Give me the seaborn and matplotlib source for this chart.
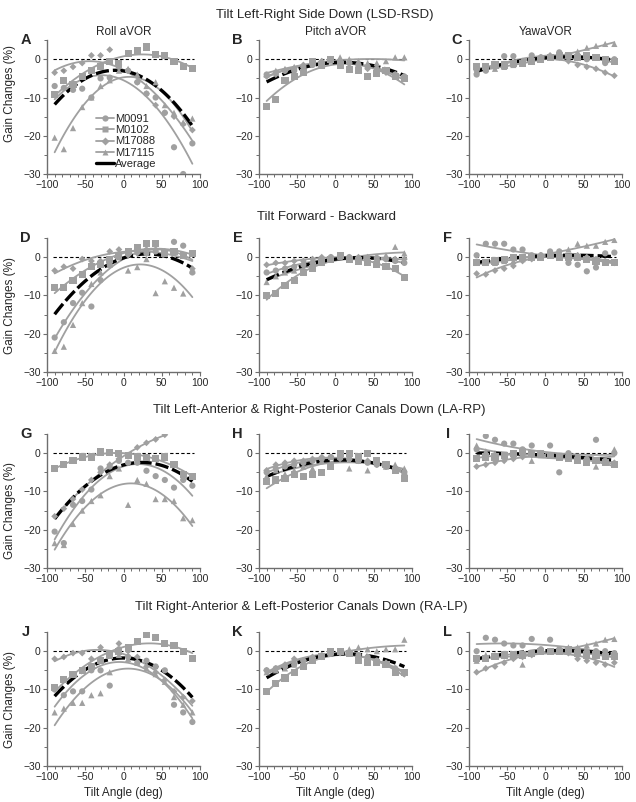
import numpy as np
import pandas as pd
import matplotlib
matplotlib.use('Agg')
import matplotlib.pyplot as plt
from matplotlib.lines import Line2D
from matplotlib.ticker import MultipleLocator
import seaborn as sns

nan = np.nan
angles = [-90, -78, -66, -54, -42, -30, -18, -6, 6, 18, 30, 42, 54, 66, 78, 90]
animals = ['M0091', 'M0102', 'M17088', 'M17115']
markers = ['o', 's', 'D', '^']
sizes = [20, 26, 12, 20]

row_titles = ['Tilt Left-Right Side Down (LSD-RSD)',
              'Tilt Forward - Backward',
              'Tilt Left-Anterior & Right-Posterior Canals Down (LA-RP)',
              'Tilt Right-Anterior & Left-Posterior Canals Down (RA-LP)']
col_titles = ['Roll aVOR', 'Pitch aVOR', 'YawaVOR']
letters = list('ABCDEFGHIJKL')

# gain changes (%) per panel, one list per animal
a_m0091 = [-7, -7.5, -8, -7.7, -10, -5, -4.8, -2, -3, -6, -9, -10, -14, -23, -30, -22]
a_m0102 = [-9.3, -5.6, -6.5, -4.5, -3, -2, -0.5, -1, 1.5, 2.2, 3.2, 1.3, 1, -0.5, -2, -2.5]
a_m17088 = [-3.5, -3, -2, -1, 1, 1, 2.5, -1.5, -3, -6, -9, -12, -14, -15, -17, -18.5]
a_m17115 = [-20.5, -23.5, -18, -12.5, -10, -7, -5.5, -3, -2.5, -4, -7, -6, -12, -14, -16.5, -15.5]

b_m0091 = [-4, -3.5, -3, -3, -2, -1.5, -1, 0, -0.5, -1, -1.5, -2, -2.5, -3, -4, -4.5]
b_m0102 = [-12.3, -10.5, -5.5, -4.5, -3.5, -0.5, -1.5, 0, -1.5, -2.8, -3, -4.5, -3.8, -3, -4.5, -5]
b_m17088 = [-4.5, -4, -3, -2.5, -1.5, -1, -0.5, 0, -0.5, -1, -2, -2.5, -3, -3.5, -4, -5]
b_m17115 = [-4, -3, -2.5, -2, -1.5, -0.5, -0.5, 0, 0.5, 0, -0.5, -1, -1, -0.5, 0.5, 0.5]

c_m0091 = [-4, -3, -2, 0.8, 0.8, -1, 1, 0.5, 0.5, 1.8, 0.5, 0.5, 0, 0.5, -1, 0]
c_m0102 = [-2, -2, -1.5, -1.5, -1, -1, -0.5, 0, 0.5, 1, 1, 0.5, 1, 0.5, 0, -0.5]
c_m17088 = [-3, -2.5, -2, -1.5, -1, -0.5, 0, 0.5, 1, 0.5, -0.5, -1.5, -2, -2.5, -3.5, -4.3]
c_m17115 = [-3, -2.5, -2.5, -2, -1.5, -1, -0.5, 0, 0.5, 0.5, 1, 2, 3, 3.5, 4, 4]

d_m0091 = [-21, -17, -12, -9.3, -12.9, -6, -2, 0, 1, 1.5, 1, 1.5, 1, 4, 3, -4]
d_m0102 = [-8, -8, -6, -4.5, -2.5, -2, -0.5, 0.5, 1.5, 2.5, 3.5, 3.5, 1, 1.5, 0.5, 1]
d_m17088 = [-3.5, -2.5, -3, -0.5, -1, -1, 1.5, 2, 0.5, 1, 2, 2, 1.5, 1.5, 0.5, -3]
d_m17115 = [-24.5, -23.4, -17.7, -12, -7, -4, -2, 0, -3.5, -2.6, -0.5, -9.4, -6.3, -8, -9.5, -3.5]

e_m0091 = [-4, -3.5, -3, -2.5, -2, -1.5, -0.5, 0, 0.5, 0, -0.5, -1, -0.5, -0.5, -1, -1.5]
e_m0102 = [-10, -9.5, -7.5, -6, -4, -3, -1.5, -0.5, 0.5, -0.5, -1, -1.5, -2, -2.5, -3, -5.3]
e_m17088 = [-2, -1.5, -1.5, -1, -1, -0.5, 0, 0, 0.5, 0, 0, 0, 0, -0.5, -0.5, -0.5]
e_m17115 = [-6.5, -5, -4, -3.5, -3, -2.5, -1.5, -0.5, 0, 0, -0.5, 0, 0, 0.5, 2.7, 1]

f_m0091 = [0.5, 3.5, 3.5, 3.5, 2, 2, 0.5, 0.5, 1.5, 1.5, -1.5, -2, -3.7, -2.7, 1, 1.2]
f_m0102 = [-1.5, -1.5, -1, -0.5, 0, 0, 0, 0, 0.5, 0, 0, 0, -0.5, -1, -1.5, -1.5]
f_m17088 = [-4.3, -4.5, -3.5, -3, -2.3, -1, -0.5, 0.5, 1, 0.5, 0, 0.5, 0, -0.5, -1, -1.5]
f_m17115 = [-1.5, -1.5, -1.5, -1, -1, -0.5, 0, 0.5, 1, 1.5, 2, 3.5, 3, 3, 4, 4.5]

g_m0091 = [-20.5, -23.5, -13.5, -12.5, -9.5, -4, -3.5, -2, -2.5, -2.5, -4.6, -6, -7, -9, -7, -8.5]
g_m0102 = [-4, -3, -2, -1, -1, 0.3, 0.2, 0, -0.5, -1, -1.2, -1.5, -1, -3, -5.5, -6]
g_m17088 = [-16.5, -14.5, -12, -9.5, -7, -5, -3, -1.5, -0.5, 1.5, 2.7, 3.6, 4.8, nan, nan, nan]
g_m17115 = [-23.5, -24, -18.5, -15, -12.5, -11, -6, -4, -13.5, -7, -8, -12, -12, -12.5, -17, -17.5]

h_m0091 = [-5, -4, -3.5, -3, -2.5, -2, -1.5, -1, -1, -1.5, -2, -2.5, -3, -3.5, -4, -5]
h_m0102 = [-7.5, -7, -6.5, -5.5, -6, -5.5, -5, -3.5, 0, 0, -1, 0, -2, -3, -4.5, -6.5]
h_m17088 = [-4.5, -3, -2.5, -2, -2, -1.5, -1, -1, -1.5, -1.5, -2, -2, -3, -3.5, -4, -5.5]
h_m17115 = [-6, -4.5, -5.5, -4.5, -3.5, -4, -2, -1, -1, -4, -2, -4.5, -2.5, -3.5, -3, -4]

i_m0091 = [1, 4.5, 3.5, 2.5, 2.5, 1, 2, 0, 2, -5, 0, -1, -1.5, 3.5, -2, 0]
i_m0102 = [-1.5, -1, -1, -0.5, 0, 0.5, 0, 0, -0.5, -1, -1.5, -2, -2.5, -2, -2.5, -3]
i_m17088 = [-3.5, -3, -2.5, -2, -1.5, -1, -0.5, 0, -0.5, -1, -1, -1.5, -2, -2, -2, -2.5]
i_m17115 = [2, 0.5, 0, -0.5, -0.5, 0, -2, -0.5, -0.5, -1, -1, -1, -1.5, -3.5, -2, 1]

j_m0091 = [-10, -11.5, -10.5, -10.5, -5, -5, -9, 0.5, -1.5, -3, -2.5, -4, -5, -14, -16, -18.5]
j_m0102 = [-9.5, -7.5, -6, -5, -4, -2.5, -1, 0, 1, 2.5, 4.5, 3.5, 2, 1.5, 0, -2]
j_m17088 = [-2, -1.5, -0.5, -0.5, -2, 1, -1, 2, 0, -1.5, -4, -5.5, -7.5, -10.5, -12, -13]
j_m17115 = [-16, -15, -13.5, -13.5, -11.5, -11, -5.5, -1, -2, -3, -4.5, -6, -8, -12, -14, -16]

k_m0091 = [-5, -4.5, -4, -3.5, -2.5, -2, -1.5, -0.5, 0, -0.5, -1, -1.5, -2.5, -3.5, -4.5, -5.5]
k_m0102 = [-10.5, -8.5, -7, -5.5, -4, -2.5, -1.5, 0, 0, -0.5, -2.5, -3, -3, -3.5, -5.5, -5.5]
k_m17088 = [-5, -4.5, -3.5, -2, -2.5, -1.5, -1, -0.5, -0.5, -0.5, -1.5, -2, -2.5, -3, -4.5, -6]
k_m17115 = [-5.5, -5, -4.5, -3.5, -3, -2, -1, -0.5, 0, 0.5, 1, 0.5, 0, 0.5, 0.5, 3]

l_m0091 = [0, 3.5, 3, 2, 1.5, 1.5, 3.2, 0.5, 3, 0.5, 0.5, 0.5, 0, 0, 0, -0.5]
l_m0102 = [-2, -2, -1.5, -1, -1, -1, -0.5, 0, 0, 0, 0.5, -0.5, -1, -1, -1.5, -1.5]
l_m17088 = [-5.5, -4.5, -4, -3, -2, -1.5, -1, 0, 0, 0, -0.5, -2, -2.5, -3, -3.5, -3]
l_m17115 = [-2.5, -1, -1, -1, -1.5, -3.5, -0.5, 0, 0, 0.5, 1, 1, 1.5, 2, 3, 3.2]

panels = [
    [a_m0091, a_m0102, a_m17088, a_m17115],
    [b_m0091, b_m0102, b_m17088, b_m17115],
    [c_m0091, c_m0102, c_m17088, c_m17115],
    [d_m0091, d_m0102, d_m17088, d_m17115],
    [e_m0091, e_m0102, e_m17088, e_m17115],
    [f_m0091, f_m0102, f_m17088, f_m17115],
    [g_m0091, g_m0102, g_m17088, g_m17115],
    [h_m0091, h_m0102, h_m17088, h_m17115],
    [i_m0091, i_m0102, i_m17088, i_m17115],
    [j_m0091, j_m0102, j_m17088, j_m17115],
    [k_m0091, k_m0102, k_m17088, k_m17115],
    [l_m0091, l_m0102, l_m17088, l_m17115],
]

sns.set_style('ticks')
plt.rcParams['font.family'] = ['Liberation Sans', 'DejaVu Sans']

gray = '#a0a0a0'
spine_col = '#6e6e6e'

fig = plt.figure(figsize=(6.36, 8.02), dpi=100)
lefts = [0.0739, 0.4072, 0.7374]
bottoms = [0.783, 0.5362, 0.2918, 0.0449]
w, h = 0.2406, 0.167

title_x = [0.511, 0.513, 0.502, 0.473]
title_y = [0.981, 0.730, 0.489, 0.243]
ylab_y = [0.60, 0.50, 0.43, 0.50]
x_all = np.array(angles, dtype=float)

for r in range(4):
    fig.text(title_x[r], title_y[r], row_titles[r], ha='center', va='center', fontsize=9.5)
    for c in range(3):
        idx = r * 3 + c
        ax = fig.add_axes([lefts[c], bottoms[r], w, h])
        series = panels[idx]

        ax.hlines(0, -92, 92, colors='black', linestyles=(0, (3, 2)), lw=0.8, zorder=1)

        fits = []
        for name, mk, sz, vals in zip(animals, markers, sizes, series):
            df = pd.DataFrame({'angle': angles, 'gain': vals}).dropna()
            sns.regplot(data=df, x='angle', y='gain', order=2, ci=None, scatter=False,
                        truncate=True, ax=ax,
                        line_kws=dict(color=gray, lw=1.3, zorder=3))
            sns.scatterplot(data=df, x='angle', y='gain', marker=mk, s=sz, color=gray,
                            edgecolor='none', linewidth=0, ax=ax, zorder=4)
            fits.append(np.polyval(np.polyfit(df['angle'], df['gain'], 2), x_all))

        # average of the four individual fits
        mean = np.mean(fits, axis=0)
        sns.regplot(x=x_all, y=mean, order=2, ci=None, scatter=False,
                    ax=ax, line_kws=dict(color='black', lw=2.4, dashes=(4, 1.2), zorder=3.5))

        ax.set_xlim(-100, 100)
        ax.set_ylim(-30, 5)
        ax.set_xticks([-100, -50, 0, 50, 100])
        ax.set_yticks([-30, -20, -10, 0])
        ax.xaxis.set_minor_locator(MultipleLocator(10))
        ax.yaxis.set_minor_locator(MultipleLocator(5))
        ax.tick_params(which='major', length=3, width=0.8, color=spine_col, labelsize=7.5, pad=1.5)
        ax.tick_params(which='minor', length=2, width=0.7, color=spine_col)
        ax.set_xlabel('')
        ax.set_ylabel('')
        sns.despine(ax=ax)
        for s in ('left', 'bottom'):
            ax.spines[s].set_color(spine_col)
            ax.spines[s].set_linewidth(1.0)

        lx = -0.08 if idx == 2 else -0.14
        ax.text(lx, 1.0, letters[idx], transform=ax.transAxes, ha='center', va='center',
                fontsize=10.5, fontweight='bold')

        if r == 0:
            ax.set_title(col_titles[c], fontsize=8.5, pad=4)
        if c == 0:
            ax.text(-0.24, ylab_y[r], 'Gain Changes (%)', transform=ax.transAxes,
                    rotation=90, ha='center', va='center', fontsize=8.5)
        if r == 3:
            ax.text(0.5, -0.2, 'Tilt Angle (deg)', transform=ax.transAxes,
                    ha='center', va='center', fontsize=8.5)

        if idx == 0:
            handles = [Line2D([], [], color=gray, lw=1.3, marker=mk, markersize=4.5,
                              markeredgecolor='none') for mk in markers]
            handles.append(Line2D([], [], color='black', lw=2.4))
            ax.legend(handles, animals + ['Average'], loc='upper left',
                      bbox_to_anchor=(0.32, 0.45), frameon=False, fontsize=8,
                      handlelength=1.6, handletextpad=0.1, labelspacing=0.12,
                      borderpad=0, borderaxespad=0)

fig.savefig('out.png', dpi=100)
